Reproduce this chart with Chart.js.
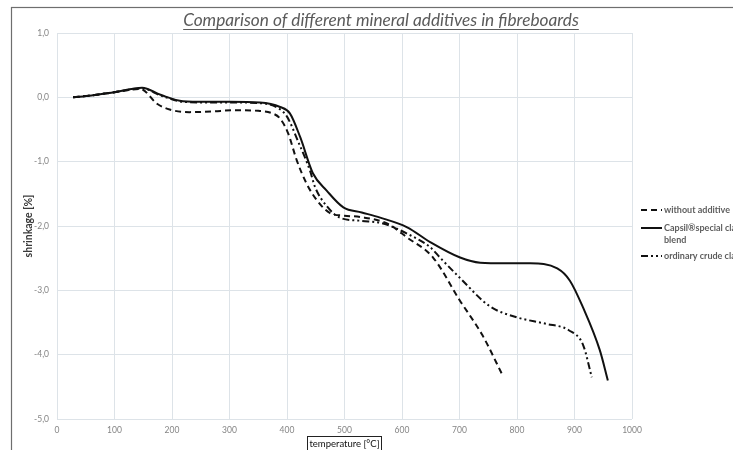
<!DOCTYPE html>
<html>
<head>
<meta charset="utf-8">
<script src="https://cdn.jsdelivr.net/npm/chart.js@4"></script>
<style>
  html, body { margin:0; padding:0; background:#fff; overflow:hidden; }
  #wrap { width:733px; height:450px; position:relative; }
</style>
</head>
<body>
<div id="wrap"><canvas id="myChart" width="733" height="450"></canvas></div>
<script>
// chart data
const chartTitle = "Comparison of different mineral additives in fibreboards";
const xTitle = "temperature [°C]";
const yTitle = "shrinkage [%]";

const names = ["without additive", "Capsil®special clay blend", "ordinary crude clay"];

// without additive (dashed)
const tempA = [28, 60, 100, 145, 174, 196, 230, 270, 306, 350, 375, 388, 402, 417, 434, 452, 475, 500, 527, 574, 609, 654, 700, 740, 776];
const shrinkA = [0, 0.03, 0.08, 0.13, -0.1, -0.19, -0.23, -0.22, -0.2, -0.21, -0.25, -0.33, -0.56, -0.98, -1.34, -1.6, -1.8, -1.84, -1.86, -1.96, -2.18, -2.49, -3.15, -3.7, -4.34];

// Capsil special clay blend (solid)
const tempB = [28, 60, 100, 148, 180, 219, 260, 300, 353, 388, 405, 423, 445, 469, 498, 530, 562, 609, 649, 701, 736, 780, 823, 870, 892, 915, 944, 958];
const shrinkB = [0, 0.03, 0.08, 0.15, 0.04, -0.06, -0.07, -0.07, -0.08, -0.15, -0.25, -0.62, -1.18, -1.45, -1.71, -1.79, -1.87, -2.02, -2.25, -2.49, -2.57, -2.58, -2.58, -2.66, -2.85, -3.27, -3.93, -4.4];

// ordinary crude clay (dash-dot)
const tempC = [28, 60, 100, 148, 180, 219, 260, 300, 353, 385, 400, 420, 440, 449, 470, 492, 530, 567, 609, 649, 666, 700, 753, 800, 850, 890, 915, 930];
const shrinkC = [0, 0.03, 0.08, 0.14, 0.03, -0.07, -0.08, -0.08, -0.09, -0.17, -0.3, -0.7, -1.14, -1.4, -1.7, -1.87, -1.92, -1.96, -2.12, -2.33, -2.49, -2.8, -3.25, -3.42, -3.52, -3.62, -3.85, -4.35];

const xMin = 0, xMax = 1000, xStep = 100;
const yMin = -5, yMax = 1, yStep = 1;

const toPoints = (xs, ys) => xs.map((x, i) => ({ x: x, y: ys[i] }));

const gridColor = "#dde3e8";
const tickColor = "#858585";

// legend, titles and frame drawn by hand
const decor = {
  id: "decor",
  afterDraw(chart) {
    const c = chart.ctx;
    c.save();

    // outer frame
    c.strokeStyle = "#6e6e6e";
    c.lineWidth = 1.2;
    c.strokeRect(11.5, 7.5, 900, 600);

    // title with underline, sized to the width seen in the picture
    let fs = 17;
    c.font = "italic " + fs + "px Lato, sans-serif";
    const w0 = c.measureText(chartTitle).width;
    fs = fs * 396 / w0;
    c.font = "italic " + fs + "px Lato, sans-serif";
    c.fillStyle = "#5a5a5a";
    c.textAlign = "center";
    c.textBaseline = "alphabetic";
    const tx = 381, ty = 26;
    c.fillText(chartTitle, tx, ty);
    const w = c.measureText(chartTitle).width;
    c.strokeStyle = "#5a5a5a";
    c.lineWidth = 1;
    c.beginPath();
    c.moveTo(tx - w / 2, ty + 3.5);
    c.lineTo(tx + w / 2, ty + 3.5);
    c.stroke();

    // y axis title
    c.save();
    c.translate(29, 226);
    c.rotate(-Math.PI / 2);
    c.font = "bold 10.5px Lato, sans-serif";
    c.fillStyle = "#3a3a3a";
    c.textAlign = "center";
    c.textBaseline = "middle";
    c.fillText(yTitle, 0, 0);
    c.restore();

    // x axis title in a box
    c.font = "9.5px Lato, sans-serif";
    c.fillStyle = "#111";
    c.textAlign = "center";
    c.textBaseline = "middle";
    c.fillText(xTitle, 344.5, 444);
    c.strokeStyle = "#222";
    c.lineWidth = 1;
    c.strokeRect(307.5, 436.5, 74, 20);

    // legend
    const rows = [
      { ds: 0, y: 210, lines: [names[0]] },
      { ds: 1, y: 228, lines: ["Capsil®special clay", "blend"] },
      { ds: 2, y: 256, lines: ["ordinary crude clay"] }
    ];
    c.font = "bold 9px Lato, sans-serif";
    c.textAlign = "left";
    c.textBaseline = "middle";
    rows.forEach(r => {
      const ds = chart.data.datasets[r.ds];
      c.strokeStyle = ds.borderColor;
      c.lineWidth = ds.borderWidth;
      c.setLineDash(ds.borderDash || []);
      c.beginPath();
      c.moveTo(641, r.y);
      c.lineTo(662, r.y);
      c.stroke();
      c.setLineDash([]);
      c.fillStyle = "#5e5e5e";
      r.lines.forEach((t, i) => c.fillText(t, 664, r.y + i * 12));
    });

    c.restore();
  }
};

const ctx = document.getElementById("myChart");

new Chart(ctx, {
  type: "line",
  data: {
    datasets: [
      {
        label: names[0],
        data: toPoints(tempA, shrinkA),
        borderColor: "#111",
        borderWidth: 2,
        borderDash: [6, 4],
        pointRadius: 0,
        fill: false,
        cubicInterpolationMode: "monotone"
      },
      {
        label: names[1],
        data: toPoints(tempB, shrinkB),
        borderColor: "#111",
        borderWidth: 2,
        pointRadius: 0,
        fill: false,
        cubicInterpolationMode: "monotone"
      },
      {
        label: names[2],
        data: toPoints(tempC, shrinkC),
        borderColor: "#111",
        borderWidth: 2,
        borderDash: [7, 3, 2, 3, 2, 3],
        pointRadius: 0,
        fill: false,
        cubicInterpolationMode: "monotone"
      }
    ]
  },
  options: {
    responsive: false,
    animation: false,
    layout: { padding: { left: 0, top: 33, right: 101, bottom: 0 } },
    plugins: {
      legend: { display: false },
      tooltip: { enabled: false }
    },
    scales: {
      x: {
        type: "linear",
        min: xMin,
        max: xMax,
        ticks: {
          stepSize: xStep,
          color: tickColor,
          font: { size: 8.5, family: "Lato, sans-serif" },
          padding: 6,
          maxRotation: 0,
          callback: v => v
        },
        grid: { color: gridColor, drawTicks: false },
        border: { display: false },
        afterFit: s => { s.height = 31; }
      },
      y: {
        min: yMin,
        max: yMax,
        ticks: {
          stepSize: yStep,
          color: tickColor,
          font: { size: 8.5, family: "Lato, sans-serif" },
          padding: 8,
          callback: v => v.toFixed(1).replace(".", ",")
        },
        grid: { color: gridColor, drawTicks: false },
        border: { display: false },
        afterFit: s => { s.width = 57; }
      }
    }
  },
  plugins: [decor]
});
</script>
</body>
</html>
